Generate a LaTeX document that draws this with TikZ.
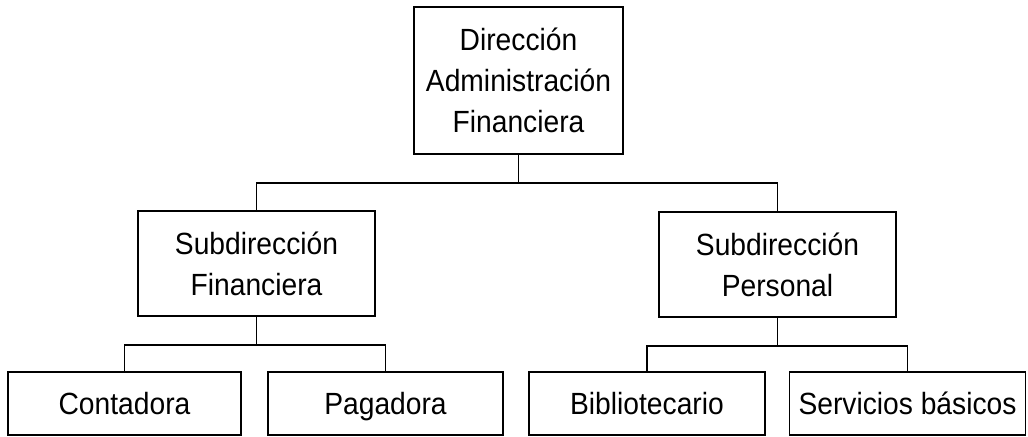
\documentclass[tikz,border=0pt]{standalone}
\usepackage{fontspec}
\setmainfont[FakeStretch=0.92]{Liberation Sans}
\tikzset{
	cargo/.style={draw, line width=1.3pt, align=center, inner sep=0pt, font=\fontsize{23}{30.75}\selectfont},
	hoja/.style={cargo, minimum height=63*0.75pt, text height=16.5pt, text depth=0pt},
	linea/.style={line width=1.3pt}
}

\begin{document}
\begin{tikzpicture}[x=0.75pt, y=-0.75pt]
			%%%%% START %%%%%
			\useasboundingbox (0, 0) rectangle (1028, 436);
			
			\node[cargo, minimum width=209*0.75pt, minimum height=147*0.75pt] (dir) at (518.5, 80.5) {Dirección\\Administración\\Financiera};
			
			\node[cargo, minimum width=237*0.75pt, minimum height=105*0.75pt] (subfin) at (256.5, 263.5) {Subdirección\\Financiera};
			\node[cargo, minimum width=237*0.75pt, minimum height=105*0.75pt] (subper) at (777.5, 264.5) {Subdirección\\Personal};
			
			\node[hoja, minimum width=233*0.75pt] (cont) at (124.5, 403.5) {Contadora};
			\node[hoja, minimum width=235*0.75pt] (pag) at (385.5, 403.5) {Pagadora};
			\node[hoja, minimum width=236*0.75pt] (bib) at (647, 403.5) {Bibliotecario};
			\node[hoja, minimum width=236*0.75pt] (serv) at (907.5, 403.5) {Servicios básicos};
			
			\draw[linea] (dir.south) -- ++(0, 28) coordinate (dirbus);
			\draw[linea] (dirbus) -| (subfin.north);
			\draw[linea] (dirbus) -| (subper.north);
			
			\draw[linea] (subfin.south) -- ++(0, 28) coordinate (finbus);
			\draw[linea] (finbus) -| (cont.north);
			\draw[linea] (finbus) -| (pag.north);
			
			\draw[linea] (subper.south) -- ++(0, 28) coordinate (perbus);
			\draw[linea] (perbus) -| (bib.north);
			\draw[linea] (perbus) -| (serv.north);
			%%%%% END %%%%%
\end{tikzpicture}
\end{document}
